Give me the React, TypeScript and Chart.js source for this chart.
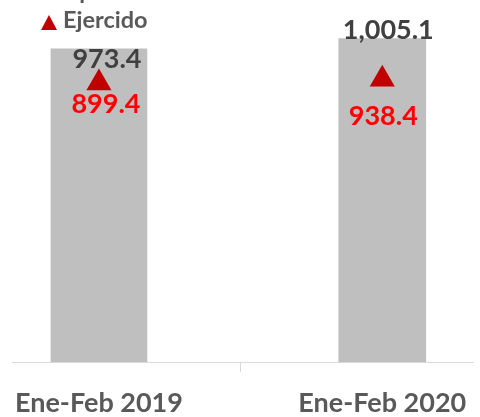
import React, { useEffect, useRef } from 'react';
import { Chart, registerables } from 'chart.js';

Chart.register(...registerables);

// ---- data ----
const categories = ['Ene-Feb 2019', 'Ene-Feb 2020'];
const aprobado = [973.4, 1005.1];
const ejercido = [899.4, 938.4];
const legendLabels = ['Aprobado', 'Ejercido'];

// ---- styles ----
const barWidths = [96, 87];
const grayDx = [8, 6];
const grayDy = [19, 0];
const redDx = [7, 1];
const redDy = [30, 46];
const FONT = 'Lato, "Open Sans", sans-serif';

const fmt = (v: number) =>
  v.toLocaleString('en-US', { minimumFractionDigits: 1, maximumFractionDigits: 1 });

export default function App() {
  const ref = useRef<HTMLCanvasElement>(null);

  useEffect(() => {
    const canvas = ref.current!;
    const labelPlugin = {
      id: 'customLabels',
      afterDatasetsDraw(chart: any) {
        const ctx = chart.ctx as CanvasRenderingContext2D;
        ctx.save();
        ctx.font = `bold 27px ${FONT}`;
        ctx.textAlign = 'center';
        ctx.textBaseline = 'alphabetic';
        aprobado.forEach((v, i) => {
          const bar = chart.getDatasetMeta(1 + i).data[0];
          if (!bar) return;
          ctx.fillStyle = '#404040';
          ctx.fillText(fmt(v), bar.x + grayDx[i], bar.y + grayDy[i]);
        });
        const lineMeta = chart.getDatasetMeta(0);
        ejercido.forEach((v, i) => {
          const pt = lineMeta.data[i];
          if (!pt) return;
          ctx.fillStyle = '#FF0000';
          ctx.fillText(fmt(v), pt.x + redDx[i], pt.y + redDy[i]);
        });
        // legend
        ctx.font = `bold 23.5px ${FONT}`;
        ctx.textAlign = 'left';
        ctx.fillStyle = '#595959';
        ctx.fillText(legendLabels[0], 63, -1);
        ctx.fillText(legendLabels[1], 63, 28);
        ctx.fillStyle = '#C00000';
        ctx.beginPath();
        ctx.moveTo(41, 30);
        ctx.lineTo(57, 30);
        ctx.lineTo(49, 15);
        ctx.closePath();
        ctx.fill();
        ctx.restore();
      },
    };

    const chart = new Chart(canvas, {
      type: 'bar',
      data: {
        datasets: [
          {
            type: 'line',
            label: legendLabels[1],
            data: ejercido.map((v, i) => ({ x: i, y: v })),
            xAxisID: 'x',
            yAxisID: 'y2',
            showLine: false,
            pointStyle: 'triangle',
            pointRadius: 14.5,
            pointHoverRadius: 14.5,
            backgroundColor: '#C00000',
            borderColor: '#C00000',
            pointBorderWidth: 0,
            order: 0,
          } as any,
          ...aprobado.map((v, i) => ({
            type: 'bar',
            label: legendLabels[0],
            data: [{ x: i, y: v }],
            backgroundColor: '#BFBFBF',
            borderWidth: 0,
            barThickness: barWidths[i],
            stack: 'a',
            xAxisID: 'x',
            yAxisID: 'y',
            order: 1,
          })) as any[],
        ],
      },
      options: {
        animation: false,
        responsive: false,
        maintainAspectRatio: false,
        layout: { autoPadding: false, padding: { left: 6, right: 0, top: 0, bottom: 0 } },
        plugins: {
          legend: { display: false },
          tooltip: { enabled: false },
        },
        scales: {
          x: {
            type: 'linear',
            offset: false,
            min: -0.30584,
            max: 1.32303,
            afterBuildTicks: (s: any) => {
              s.ticks = [{ value: 0 }, { value: 0.5 }, { value: 1 }];
            },
            afterFit: (s: any) => {
              s.height = 55;
            },
            ticks: {
              autoSkip: false,
              maxRotation: 0,
              padding: 15,
              color: '#595959',
              font: { family: FONT, size: 27, weight: 'bold' },
              callback: (v: any) => categories[v as number] ?? '',
            },
            grid: {
              offset: false,
              drawOnChartArea: false,
              drawTicks: true,
              tickLength: 10,
              lineWidth: 1,
              color: (c: any) =>
                c.tick && c.tick.value === 0.5 ? '#D9D9D9' : 'rgba(0,0,0,0)',
            },
            border: { display: true, color: '#D9D9D9', width: 1 },
          },
          y: { display: false, min: 0, max: 1125, stacked: false },
          y2: { display: false, min: -1890, max: 1730, position: 'right' },
        },
      } as any,
      plugins: [labelPlugin],
    });
    return () => chart.destroy();
  }, []);

  return (
    <div style={{ position: 'fixed', left: 0, top: 0, width: 480, height: 417, background: '#fff' }}>
      <canvas ref={ref} width={480} height={417} style={{ display: 'block' }} />
    </div>
  );
}
